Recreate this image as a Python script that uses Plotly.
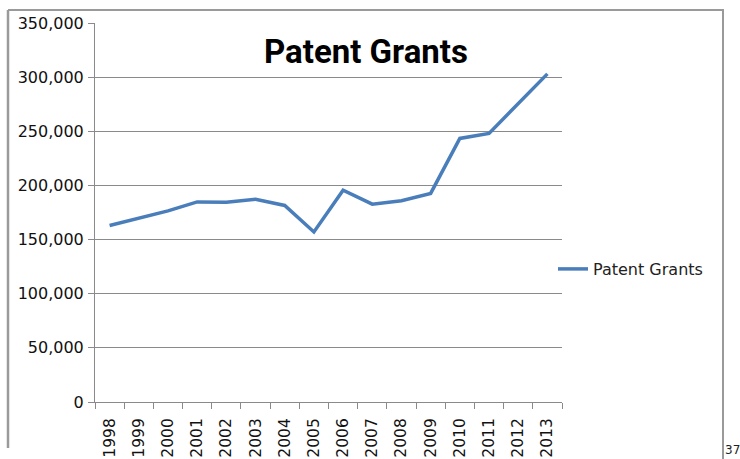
import plotly.graph_objects as go

years = [str(y) for y in range(1998, 2014)]
grants = [163000, 169800, 176500, 184800, 184500, 187300, 181500, 157000,
          195600, 182700, 185800, 192600, 243400, 248000, 275800, 303000]
y_ticks = [0, 50000, 100000, 150000, 200000, 250000, 300000, 350000]
y_tick_labels = ["0", "50,000", "100,000", "150,000", "200,000", "250,000", "300,000", "350,000"]

W, H = 740, 459
L, R, T, B = 95, 178, 23, 57
PW, PH = W - L - R, H - T - B


def px(x):
    return (x - L) / PW


def py(y):
    return (H - B - y) / PH


fig = go.Figure()
fig.add_trace(go.Scatter(
    x=years, y=grants, mode="lines", name="Patent Grants",
    line=dict(color="#4a7ebb", width=3.5),
))

grid = "#8a8a8a"
fig.update_layout(
    width=W, height=H,
    margin=dict(l=L, r=R, t=T, b=B, autoexpand=False),
    paper_bgcolor="white", plot_bgcolor="white",
    font=dict(family="DejaVu Sans", size=16, color="#111"),
    showlegend=True,
    legend=dict(x=px(553), xanchor="left", y=py(269), yanchor="middle",
                font=dict(family="DejaVu Sans", size=16, color="#222"),
                bgcolor="rgba(0,0,0,0)", itemwidth=30),
    xaxis=dict(type="category", tickangle=-90, showgrid=False,
               range=[-0.5, len(years) - 0.5],
               showline=True, linecolor=grid, linewidth=1,
               ticks="outside", ticklen=6, tickcolor=grid, tickson="boundaries",
               ticklabelstandoff=9,
               tickfont=dict(family="DejaVu Sans", size=15.5, color="#111"),
               automargin=False, fixedrange=True),
    yaxis=dict(range=[0, 350000], tickvals=y_ticks, ticktext=y_tick_labels,
               showgrid=True, gridcolor=grid, gridwidth=1,
               showline=True, linecolor=grid, linewidth=1,
               ticks="outside", ticklen=6, tickcolor=grid,
               zeroline=False, ticklabelstandoff=1,
               tickfont=dict(family="DejaVu Sans", size=16, color="#111"),
               automargin=False, fixedrange=True),
)

# Title
fig.add_annotation(text="<b>Patent Grants</b>", x=px(366), y=py(51),
                   xref="paper", yref="paper", xanchor="center", yanchor="middle",
                   showarrow=False, font=dict(family="Roboto", size=33, color="#000"))

# Page number
fig.add_annotation(text="37", x=px(724), y=py(458), xref="paper", yref="paper",
                   xanchor="left", yanchor="bottom", showarrow=False, borderpad=0,
                   font=dict(family="DejaVu Sans", size=12, color="#222"))

# Chart border
border = "#9a9a9a"
fig.add_shape(type="line", xref="paper", yref="paper",
              x0=px(8), x1=px(8), y0=py(10), y1=py(448),
              line=dict(color=border, width=2.5))
fig.add_shape(type="line", xref="paper", yref="paper",
              x0=px(8), x1=px(724), y0=py(10), y1=py(10),
              line=dict(color=border, width=2))
fig.add_shape(type="line", xref="paper", yref="paper",
              x0=px(723), x1=px(723), y0=py(10), y1=py(470),
              line=dict(color=border, width=2))

fig.write_html("out.html", config={"displayModeBar": False},
               post_script="document.body.style.margin='0';document.body.style.overflow='hidden';")
